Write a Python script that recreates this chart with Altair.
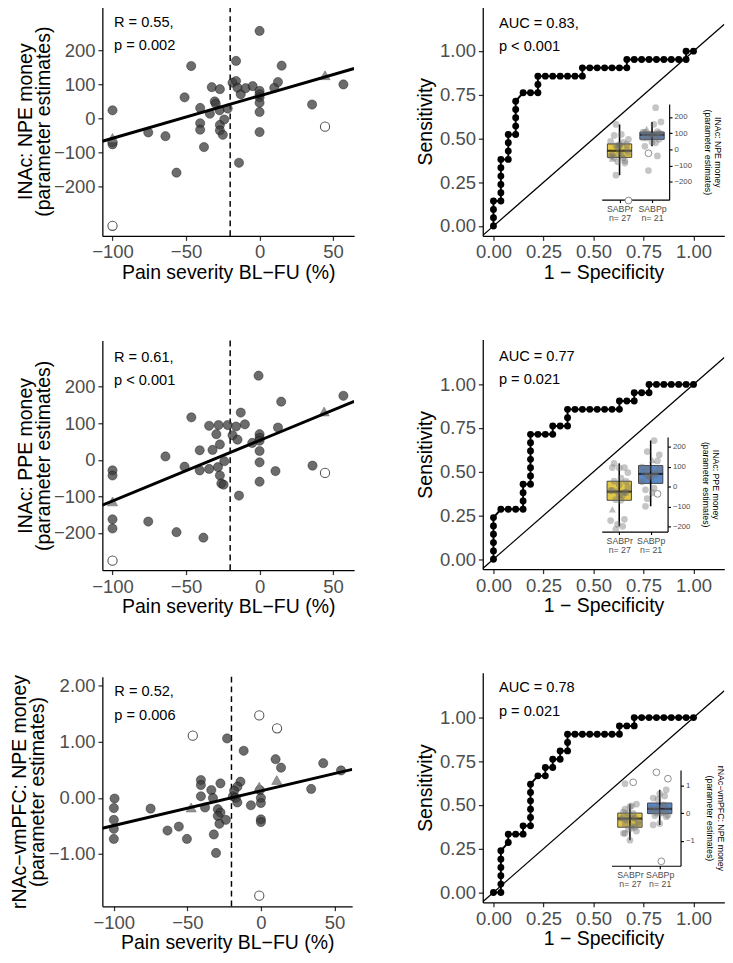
import altair as alt
import pandas as pd

FONT = "Liberation Sans"
CUTOFF = -20
N_SABPR = 27
N_SABPP = 21
GROUPS = ["SABPr", "SABPp"]
GROUP_N = [27, 21]
BOX_COLORS = ["#E0C437", "#4D80C4"]

X_TITLE = "Pain severity BL\u2212FU (%)"
X_TICKS = [-100, -50, 0, 50]
ROC_TICKS = [0, 0.25, 0.5, 0.75, 1]

Y_TITLES = [["INAc: NPE money", "(parameter estimates)"],
            ["INAc: PPE money", "(parameter estimates)"],
            ["rNAc\u2212vmPFC: NPE money", "(parameter estimates)"]]
R_TEXT = [["R = 0.55,", "p = 0.002"], ["R = 0.61,", "p < 0.001"], ["R = 0.52,", "p = 0.006"]]
AUC_TEXT = [["AUC = 0.83,", "p < 0.001"], ["AUC = 0.77", "p = 0.021"], ["AUC = 0.78", "p = 0.021"]]

# ---------------- scatter data (f = filled, t = triangle, o = open) ----------------
p1_x = [0, -46.5, -16, 15, 44.5, 57, -100, -100, -100, -100,
        -75.7, -64, -56.5, -51, -32.5, -27, -40.4, -40.4, -40.4, -37.8,
        -33.8, -30.5, -29.8, -27.2, -27, -27, -25, -24, -21.7, -18.4,
        -16, -15, -12.8, -9.5, -14, -4.7, 0, 0, 0, 0,
        0, 0, 10, 12.5, 35.7, 44.5, -100]
p1_y = [257, 154, 169, 155, 127, 100, 24, -57, -70, -76,
        -41, -52, -159, 62, 92, 86, 31, -14, -33, -84,
        14, 50, 43, 24, -19, -35, -48, -3, 29, 105,
        110, 90, 71, 89, -130, 95, 81, 71, 62, 46,
        19, -40, 90, 107, 41, -24, -315]
p1_t = list("fffftfftff" "ffffffffff" "ffffffffff" "ffffffffff" "fffffoo")

p2_x = [-0.7, 57, 14.7, 43.9, -46.4, -12.8, -34.3, -27.9, -21.7, -16,
        -10, -18.4, -15, -29.4, -27, -32, -40.7, -5, 0, 0,
        0, 0, 0, 0, 12.5, 10.8, 36, 44.5, -64, -51,
        -40.7, -34.3, -28.3, -27, -26, -24, -24.5, -14, -100, -100,
        -100, -100, -100, -100, -75.7, -56.5, -38.2]
p2_y = [230, 175, 159, 132, 116, 129, 93, 95, 95, 91,
        97, 67, 55, 70, 42, 27, 26, 46, 70, 60,
        52, 24, -7, -60, 88, -31, -16, -36, 9, -19,
        -29, -25, -20, -43, -65, -4, -68, -98, -29, -43,
        -114, -163, -188, -276, -169, -198, -213]
p2_t = list("ffftffffff" "ffffffffff" "fffffffoff" "ffffffffff" "tffofff")

p3_x = [-46.3, -1.1, 11, -1.1, -23, -11.7, 10, 13.7, 42.4, 54.5,
        34.2, 10.8, -1.1, -0.7, 0, 0, -6.8, 0, 0, -13.9,
        -16, -18.2, -19, -17, -16, -27.5, -33.7, -40.8, -40.8, -40.8,
        -38, -32.6, -47.4, -29.3, -27.5, -29.3, -28.2, -23.8, -32, -30.5,
        -50.3, -55.8, -63.5, -75, -99.5, -100, -100, -100, -100]
p3_y = [1.11, 1.47, 1.24, -1.74, 1.06, 0.84, 0.69, 0.54, 0.62, 0.49,
        0.16, 0.32, 0.2, 0.14, 0.0, -0.09, -0.13, -0.38, -0.43, 0.29,
        0.2, 0.13, 0.03, 0.0, -0.08, 0.26, 0.14, 0.32, 0.23, 0.03,
        -0.17, 0.0, -0.17, -0.2, -0.26, -0.32, -0.46, -0.39, -0.65, -0.98,
        -0.73, -0.51, -0.58, -0.19, -0.01, -0.18, -0.39, -0.55, -0.73]
p3_t = list("ooooffffff" "fttfffffff" "ffffffffff" "fftfffffff" "fffffffff")

# ---------------- ROC data: counts of false / true positives ----------------
roc1_fp = [0, 0, 0, 0, 1, 1, 1, 1, 1, 1, 2, 2, 2, 2, 3, 3, 3, 3, 3, 4, 5, 6, 6, 6,
           7, 8, 9, 10, 11, 12, 12, 13, 14, 15, 16, 17, 18, 18, 19, 20, 21, 22, 23, 24, 25, 26, 26, 27]
roc1_tp = [0, 1, 2, 3, 3, 4, 5, 6, 7, 8, 8, 9, 10, 11, 11, 12, 13, 14, 15, 16, 16, 16, 17, 18,
           18, 18, 18, 18, 18, 18, 19, 19, 19, 19, 19, 19, 19, 20, 20, 20, 20, 20, 20, 20, 20, 20, 21, 21]
roc2_fp = [0, 0, 0, 0, 0, 0, 1, 2, 3, 4, 4, 4, 4, 5, 5, 5, 5, 5, 5, 5, 6, 7, 8, 8, 9, 10,
           10, 10, 11, 12, 13, 14, 15, 16, 17, 17, 18, 19, 19, 20, 21, 21, 22, 23, 24, 25, 26, 27]
roc2_tp = [0, 1, 2, 3, 4, 5, 6, 6, 6, 6, 7, 8, 9, 9, 10, 11, 12, 13, 14, 15, 15, 15, 15, 16, 16, 16,
           17, 18, 18, 18, 18, 18, 18, 18, 18, 19, 19, 19, 20, 20, 20, 21, 21, 21, 21, 21, 21, 21]
roc3_fp = [0, 1, 1, 1, 1, 1, 1, 2, 2, 3, 4, 4, 5, 5, 5, 5, 5, 5, 6, 7, 7, 8, 8, 9, 9, 10,
           10, 10, 11, 12, 13, 14, 15, 16, 17, 17, 18, 19, 19, 20, 21, 22, 23, 24, 25, 26, 27]
roc3_tp = [0, 0, 1, 2, 3, 4, 5, 6, 7, 7, 7, 8, 8, 9, 10, 11, 12, 13, 14, 14, 15, 15, 16, 16, 17, 17,
           18, 19, 19, 19, 19, 19, 19, 19, 19, 20, 20, 20, 21, 21, 21, 21, 21, 21, 21, 21, 21]

# ---------------- layout / scale settings ----------------
H = 236
W_S = [258.8, 258.8, 256.8]
W_R = 248.3
X_DOMS = [[-106.9, 64.3], [-106.9, 64.3], [-107.8, 62.1]]
Y_DOMS = [[-345, 329], [-302, 326], [-1.93, 2.16]]
Y_TICKS = [[-200, -100, 0, 100, 200], [-200, -100, 0, 100, 200], [-1, 0, 1, 2]]
Y_FMT = ["d", "d", ".2f"]
Y_TITLE_LH = [19, 19, 18]
Y_TITLE_PAD = [0, 0, 1]
ANN_POS = [(12, 16), (12, 16.7), (12.3, 15)]
ROC_ANN_POS = [(16.6, 17), (16.6, 16.7), (16.6, 15)]
ROC_XDOM = [-0.0535, 1.154]
ROC_YDOM = [-0.057, 1.256]
INSETS = [
    dict(xdom=[0.452, 2.527], xrange=[122.3, 191.6], ydom=[-310, 280], yrange=[198.7, 100.3],
         yticks=[-200, -100, 0, 100, 200], off_r=-56.7),
    dict(xdom=[0.443, 2.539], xrange=[122.3, 190.0], ydom=[-224, 248], yrange=[197.3, 100.0],
         yticks=[-200, -100, 0, 100, 200], off_r=-58.3),
    dict(xdom=[0.38, 2.70], xrange=[132.3, 203.3], ydom=[-1.9, 1.55], yrange=[198.3, 100.0],
         yticks=[-1, 0, 1], off_r=-45.0),
]
V_SP = 58.5
H_SP = 63


def scatter_panel(k, xs, ys, ts):
    df = pd.DataFrame({"x": xs, "y": ys, "t": ts})
    xsc = alt.Scale(domain=X_DOMS[k], nice=False, zero=False, padding=0)
    ysc = alt.Scale(domain=Y_DOMS[k], nice=False, zero=False, padding=0)
    xax = alt.Axis(values=X_TICKS, title=X_TITLE, titlePadding=1)
    yax = alt.Axis(values=Y_TICKS[k], format=Y_FMT[k], title=Y_TITLES[k],
                   titlePadding=Y_TITLE_PAD[k], titleLineHeight=Y_TITLE_LH[k])
    X = alt.X("x:Q", scale=xsc, axis=xax)
    Y = alt.Y("y:Q", scale=ysc, axis=yax)
    base = alt.Chart(df)
    cut = alt.Chart(pd.DataFrame({"x": [CUTOFF]})).mark_rule(
        strokeDash=[6, 4], strokeWidth=1.5, color="black").encode(x=X)
    filled = base.transform_filter("datum.t == 'f'").mark_point(
        shape="circle", filled=True, size=90, fill="#3b3b3b", fillOpacity=0.75,
        stroke="black", strokeWidth=0.6, strokeOpacity=0.6, clip=True).encode(x=X, y=Y)
    tri = base.transform_filter("datum.t == 't'").mark_point(
        shape="triangle-up", filled=True, size=110, fill="#808080", fillOpacity=0.85,
        stroke="#606060", strokeWidth=0.5, clip=True).encode(x=X, y=Y)
    opn = base.transform_filter("datum.t == 'o'").mark_point(
        shape="circle", filled=False, size=90, fill="white", fillOpacity=1,
        stroke="#555555", strokeWidth=1.1, clip=True).encode(x=X, y=Y)
    reg = base.transform_filter("datum.t != 'o'").transform_regression(
        "x", "y", extent=X_DOMS[k]).mark_line(color="black", strokeWidth=3, clip=True).encode(x=X, y=Y)
    ax, ay = ANN_POS[k]
    txt = alt.Chart(pd.DataFrame({"s": ["\n".join(R_TEXT[k])]})).mark_text(
        align="left", baseline="middle", fontSize=15, font=FONT, color="black",
        lineBreak="\n", lineHeight=24).encode(x=alt.value(ax), y=alt.value(ay), text="s:N")
    return alt.layer(cut, filled, tri, opn, reg, txt).properties(width=W_S[k], height=H), df


def roc_panel(k, fp, tp, sdf):
    rdf = pd.DataFrame({"fpr": [f / N_SABPR for f in fp], "tpr": [t / N_SABPP for t in tp],
                        "i": list(range(len(fp)))})
    xsc = alt.Scale(domain=ROC_XDOM, nice=False, zero=False, padding=0)
    ysc = alt.Scale(domain=ROC_YDOM, nice=False, zero=False, padding=0)
    xax = alt.Axis(values=ROC_TICKS, format=".2f", title="1 \u2212 Specificity", titlePadding=1)
    yax = alt.Axis(values=ROC_TICKS, format=".2f", title="Sensitivity", titlePadding=4)
    X = alt.X("fpr:Q", scale=xsc, axis=xax)
    Y = alt.Y("tpr:Q", scale=ysc, axis=yax)
    diag = alt.Chart(pd.DataFrame({"fpr": ROC_XDOM, "tpr": ROC_XDOM})).mark_line(
        color="black", strokeWidth=1.3, clip=True).encode(x=X, y=Y)
    line = alt.Chart(rdf).mark_line(color="black", strokeWidth=2).encode(
        x=X, y=Y, order="i:Q")
    pts = alt.Chart(rdf).mark_circle(color="black", size=50, opacity=1).encode(x=X, y=Y)
    ax, ay = ROC_ANN_POS[k]
    txt = alt.Chart(pd.DataFrame({"s": ["\n".join(AUC_TEXT[k])]})).mark_text(
        align="left", baseline="middle", fontSize=15, font=FONT, color="black",
        lineBreak="\n", lineHeight=24).encode(x=alt.value(ax), y=alt.value(ay), text="s:N")
    main = alt.layer(diag, line, pts, txt)

    p = INSETS[k]
    label_expr = (f"datum.value == 1 ? ['{GROUPS[0]}', 'n= {GROUP_N[0]}'] : "
                  f"['{GROUPS[1]}', 'n= {GROUP_N[1]}']")
    ixa = alt.Axis(orient="bottom", offset=p["yrange"][0] - H, values=[1, 2], labelExpr=label_expr,
                   title=None, labelFontSize=9, labelColor="#4D4D4D", tickSize=3, labelPadding=2,
                   domainWidth=1.2, tickWidth=1.2, tickColor="black", labelLineHeight=9.5)
    iya = alt.Axis(orient="right", offset=p["off_r"], values=p["yticks"], format="d",
                   title=Y_TITLES[k], titleFontSize=9, titleLineHeight=10.5, titlePadding=11,
                   labelFontSize=8, labelPadding=2, tickSize=3, domainWidth=1.2, tickWidth=1.2,
                   tickColor="black", labelColor="#4D4D4D", titleColor="black")
    ixs = alt.Scale(domain=p["xdom"], range=p["xrange"], nice=False, zero=False, padding=0)
    iys = alt.Scale(domain=p["ydom"], range=p["yrange"], nice=False, zero=False, padding=0)
    IX = alt.X("pos:Q", scale=ixs, axis=ixa)

    def IY(field):
        return alt.Y(field, scale=iys, axis=iya)

    grp = f"datum.x <= {CUTOFF} ? '{GROUPS[0]}' : '{GROUPS[1]}'"
    gpos = f"datum.x <= {CUTOFF} ? 1 : 2"
    lo_lim, hi_lim = p["ydom"]
    tol = (hi_lim - lo_lim) * 0.03
    base = alt.Chart(sdf)
    kept = base.transform_filter("datum.t != 'o'").transform_calculate(g=grp, pos=gpos)
    box = kept.transform_aggregate(q1="q1(y)", q3="q3(y)", groupby=["g", "pos"]).mark_bar(
        width=25, stroke="#333333", strokeWidth=1, opacity=0.92).encode(
        x=IX, y=IY("q1:Q"), y2="q3:Q",
        color=alt.Color("g:N", scale=alt.Scale(domain=GROUPS, range=BOX_COLORS), legend=None))
    whisk = kept.transform_joinaggregate(q1="q1(y)", q3="q3(y)", groupby=["g"]).transform_filter(
        "datum.y >= datum.q1 - 1.5*(datum.q3 - datum.q1) && datum.y <= datum.q3 + 1.5*(datum.q3 - datum.q1)"
    ).transform_aggregate(lo="min(y)", hi="max(y)", groupby=["g", "pos"]).mark_rule(
        color="black", strokeWidth=1.6).encode(x=IX, y=IY("lo:Q"), y2="hi:Q")
    med = kept.transform_aggregate(m="median(y)", groupby=["g", "pos"]).mark_tick(
        orient="horizontal", size=25, thickness=2.2, color="black").encode(x=IX, y=IY("m:Q"))
    jit = base.transform_filter(
        f"datum.y >= {lo_lim - tol} && datum.y <= {hi_lim + tol}"
    ).transform_window(i="row_number()").transform_calculate(
        pos=f"({gpos}) + ((datum.i * 7) % 11 - 5) * 0.055")
    ipf = jit.transform_filter("datum.t == 'f'").mark_circle(
        size=48, color="#6e6e6e", opacity=0.4).encode(x=IX, y=IY("y:Q"))
    ipt = jit.transform_filter("datum.t == 't'").mark_point(
        shape="triangle-up", filled=True, size=55, color="#6e6e6e", opacity=0.45).encode(x=IX, y=IY("y:Q"))
    ipo = jit.transform_filter("datum.t == 'o'").mark_point(
        shape="circle", filled=False, size=48, fill="white", fillOpacity=1, stroke="#8a8a8a",
        strokeWidth=1).encode(x=IX, y=IY("y:Q"))
    inset = alt.layer(box, whisk, med, ipf, ipt, ipo)
    return alt.layer(main, inset).resolve_scale(x="independent", y="independent").properties(
        width=W_R, height=H)


s1, d1 = scatter_panel(0, p1_x, p1_y, p1_t)
s2, d2 = scatter_panel(1, p2_x, p2_y, p2_t)
s3, d3 = scatter_panel(2, p3_x, p3_y, p3_t)
r1 = roc_panel(0, roc1_fp, roc1_tp, d1)
r2 = roc_panel(1, roc2_fp, roc2_tp, d2)
r3 = roc_panel(2, roc3_fp, roc3_tp, d3)

left = alt.concat(s1, s2, s3, columns=1, spacing=V_SP, align="none")
right = alt.vconcat(r1, r2, r3, spacing=V_SP)
chart = alt.hconcat(left, right, spacing=H_SP).properties(
    padding={"left": 2, "top": -16, "right": 0, "bottom": 0}
).configure_axis(
    grid=False, domainColor="black", domainWidth=1.3, tickColor="#333333", tickWidth=1.3,
    tickSize=4.5, labelPadding=3, labelFont=FONT, labelFontSize=19, labelColor="#4D4D4D",
    titleFont=FONT, titleFontSize=20, titleColor="black", titleFontWeight="normal",
    labelFlush=False, labelOverlap=False
).configure_view(stroke=None)

chart.save("out.html", embed_options={"renderer": "svg", "actions": False})
